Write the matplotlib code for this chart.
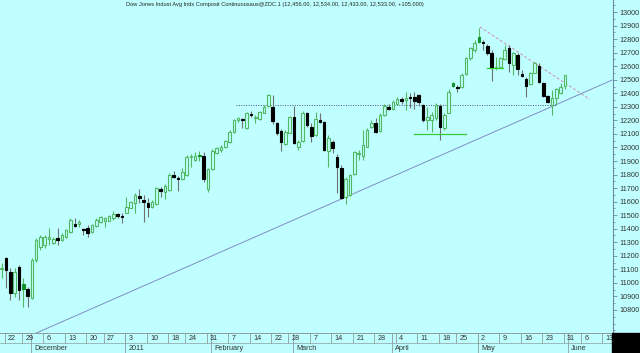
import numpy as np
import pandas as pd
import matplotlib
matplotlib.use('Agg')
import matplotlib.pyplot as plt
from matplotlib.patches import Rectangle

# trading days, exchange holidays left out
holidays = ['2010-11-25', '2010-12-24', '2011-01-17', '2011-02-21',
            '2011-04-22', '2011-05-30']
dates = pd.bdate_range('2010-11-19', '2011-06-17', freq='C', holidays=holidays)

opens = [11100, 11181, 11083, 10923, 11115, 10989, 10952, 10886, 11169, 11263,
         11280, 11321, 11297, 11334, 11317, 11336, 11378, 11435, 11435, 11400,
         11403, 11373, 11420, 11452, 11457, 11459, 11477, 11506, 11494, 11518,
         11555, 11592, 11642, 11612, 11587, 11558, 11583, 11691, 11674, 11686,
         11797, 11772, 11765, 11797, 11932, 11907, 11945, 11937, 11691, 11838,
         11961, 11981, 12006, 12043, 12112, 12203, 12210, 12141, 12244, 12215,
         12208, 12257, 12306, 12301, 12178, 12124, 12025, 12109, 12227, 12006,
         12050, 12252, 12153, 12092, 12203, 12190, 11976, 12038, 11932, 11846,
         11637, 11649, 11804, 11952, 11940, 12006, 12153, 12183, 12121, 12239,
         12301, 12281, 12321, 12358, 12350, 12370, 12375, 12387, 12313, 12202,
         12203, 12215, 12306, 12141, 12257, 12473, 12449, 12444, 12542, 12658,
         12719, 12813, 12774, 12749, 12700, 12584, 12596, 12650, 12732, 12609,
         12683, 12542, 12503, 12468, 12552, 12601, 12478, 12380, 12313, 12363,
         12404, 12456]
highs = [11147, 11194, 11107, 11107, 11132, 11034, 10972, 11181, 11329, 11354,
         11355, 11403, 11336, 11403, 11366, 11400, 11477, 11477, 11464, 11405,
         11427, 11434, 11477, 11494, 11489, 11501, 11531, 11514, 11514, 11632,
         11607, 11661, 11691, 11649, 11624, 11612, 11710, 11706, 11730, 11809,
         11829, 11789, 11846, 11944, 11952, 11969, 11976, 11969, 11846, 11986,
         12006, 12018, 12055, 12129, 12208, 12227, 12215, 12264, 12272, 12240,
         12272, 12313, 12395, 12387, 12190, 12134, 12129, 12232, 12306, 12055,
         12272, 12264, 12178, 12264, 12257, 12198, 12092, 12055, 11952, 11870,
         11780, 11804, 11976, 11981, 12126, 12141, 12203, 12215, 12252, 12321,
         12321, 12350, 12375, 12375, 12412, 12404, 12412, 12395, 12321, 12301,
         12264, 12325, 12321, 12252, 12429, 12486, 12461, 12547, 12670, 12744,
         12793, 12880, 12793, 12764, 12720, 12665, 12670, 12756, 12756, 12707,
         12695, 12572, 12523, 12560, 12633, 12621, 12486, 12387, 12424, 12436,
         12478, 12534]
lows = [11036, 10960, 10874, 10898, 10874, 10824, 10824, 10879, 11157, 11243,
        11260, 11280, 11287, 11280, 11312, 11331, 11371, 11410, 11415, 11354,
        11336, 11366, 11415, 11445, 11410, 11455, 11464, 11477, 11440, 11514,
        11550, 11514, 11592, 11452, 11489, 11550, 11575, 11637, 11617, 11679,
        11772, 11681, 11760, 11789, 11853, 11902, 11902, 11747, 11674, 11830,
        11952, 11969, 11994, 12036, 12104, 12190, 12141, 12134, 12222, 12178,
        12203, 12252, 12301, 12173, 12092, 11976, 12018, 12104, 12025, 11981,
        12043, 12153, 12043, 12085, 12178, 11976, 11858, 11957, 11661, 11617,
        11583, 11642, 11797, 11907, 11910, 12001, 12141, 12109, 12116, 12232,
        12276, 12276, 12313, 12321, 12276, 12288, 12281, 12306, 12190, 12129,
        12117, 12203, 12055, 12129, 12252, 12449, 12412, 12436, 12535, 12646,
        12707, 12769, 12720, 12683, 12493, 12572, 12584, 12646, 12560, 12535,
        12535, 12523, 12375, 12461, 12547, 12478, 12375, 12331, 12240, 12313,
        12395, 12433]
closes = [11110, 11095, 10923, 11083, 10948, 10955, 10903, 11169, 11317, 11336,
          11340, 11338, 11321, 11317, 11354, 11390, 11464, 11420, 11452, 11393,
          11366, 11427, 11464, 11489, 11477, 11494, 11509, 11494, 11484, 11563,
          11600, 11649, 11629, 11600, 11563, 11600, 11698, 11679, 11715, 11797,
          11784, 11765, 11821, 11932, 11937, 11935, 11940, 11765, 11838, 11976,
          11994, 12006, 12048, 12117, 12203, 12215, 12203, 12252, 12237, 12225,
          12264, 12301, 12387, 12198, 12104, 12043, 12117, 12222, 12030, 12043,
          12257, 12166, 12085, 12208, 12185, 11981, 12067, 11994, 11853, 11624,
          11765, 11797, 11969, 11961, 12018, 12129, 12178, 12116, 12239, 12306,
          12281, 12338, 12355, 12343, 12367, 12365, 12345, 12338, 12203, 12222,
          12239, 12313, 12153, 12239, 12412, 12457, 12441, 12535, 12658, 12732,
          12774, 12781, 12769, 12695, 12584, 12596, 12658, 12719, 12621, 12700,
          12577, 12528, 12454, 12552, 12621, 12486, 12380, 12338, 12363, 12429,
          12449, 12533]

title = ('Dow Jones Indust Avg Indx Composit Continuousaus@ZDC.1 '
         '(12,456.00, 12,534.00, 12,433.00, 12,533.00, +105.000)')

bg = '#c0ffff'
up_col = '#52b862'
plt.rcParams['font.family'] = ['Liberation Sans', 'DejaVu Sans']

fig = plt.figure(figsize=(6.4, 3.53), dpi=100, facecolor=bg)
ax = fig.add_axes([0, 20 / 353, 613 / 640, 333 / 353])
ax.set_facecolor(bg)

o = np.array(opens, float)
c = np.array(closes, float)
h = np.array(highs, float)
l = np.array(lows, float)
x = np.arange(len(c))
prev = np.r_[o[0], c[:-1]]
up = c >= o
gfill = (~up) & (c > prev)

face = np.where(up, bg, np.where(gfill, '#12922a', 'black'))
edge = np.where(up, up_col, np.where(gfill, '#12922a', 'black'))
wick = np.where(up | gfill, up_col, '#707070')

ax.vlines(x, l, h, colors=wick, lw=0.8, zorder=2)
ax.bar(x, np.maximum(np.abs(c - o), 7), bottom=np.minimum(o, c), width=0.6,
       color=face, edgecolor=edge, lw=0.8, zorder=3)

# drawn lines
ax.plot([7, 142], [10615, 12498], color='#7f8cc4', lw=0.7, zorder=1)
ax.plot([54.6, 129], [12315, 12315], color='#4a5585', lw=0.7, ls=(0, (1, 1.5)), zorder=1)
ax.plot([111.2, 136.8], [12891, 12355], color='#d08cb0', lw=0.7, ls=(0, (3, 2)), zorder=1)
ax.plot([95.9, 108], [12097, 12097], color='#33cc33', lw=0.9, zorder=4)
ax.plot([112.8, 116.7], [12584, 12584], color='#33cc33', lw=0.9, zorder=4)

ax.set_xlim(-0.4, 142.2)
ax.set_ylim(10630, 13089)
ax.set_xticks([])
ax.yaxis.tick_right()
yt = np.arange(10800, 13001, 100)
ax.set_yticks(yt)
ax.set_yticklabels([str(v) for v in yt])
ax.set_yticks(np.arange(10650, 13051, 50), minor=True)
ax.tick_params(axis='y', which='major', length=3, width=0.6, color='#6c8aa0',
               labelcolor='#333333', labelsize=5.2, pad=1.5)
ax.tick_params(axis='y', which='minor', length=1.5, width=0.6, color='#6c8aa0')
for s in ['left', 'top', 'bottom']:
    ax.spines[s].set_visible(False)
ax.spines['right'].set_color('#6c8aa0')
ax.spines['right'].set_linewidth(0.8)

ax.text(0.449, 0.985, title, transform=ax.transAxes, ha='center', va='center',
        fontsize=4.1, color='#222222')

# date strip
dax = fig.add_axes([0, 0, 613 / 640, 20 / 353])
dax.set_xlim(ax.get_xlim())
dax.set_ylim(0, 2)
dax.axis('off')
grid_col = '#8c9c9c'
dax.axhline(2, color=grid_col, lw=0.7, clip_on=False)
dax.axhline(1, color=grid_col, lw=0.5, clip_on=False)

pos = pd.Series(np.arange(len(dates)), index=dates)
weeks = pos[pos.index >= '2010-11-22']
wk_first = weeks.groupby(weeks.index.to_period('W')).head(1)
for d, p in wk_first.items():
    if p > 142:
        continue
    dax.vlines(p - 0.3, 1, 2, color=grid_col, lw=0.6)
    dax.text(p + 0.5, 1.5, str(d.day), fontsize=5.2, va='center', color='#333333')

months = pos[pos.index >= '2010-12-01']
mo_first = months.groupby(months.index.to_period('M')).head(1)
for d, p in mo_first.items():
    if p > 142:
        continue
    name = '2011' if d.month == 1 else d.strftime('%B')
    dax.vlines(p - 0.3, 0, 2, color=grid_col, lw=0.6)
    dax.text(p + 0.5, 0.5, name, fontsize=5.2, va='center', color='#333333')

fig.add_artist(Rectangle((612 / 640, 0), 28 / 640, 20 / 353,
                         transform=fig.transFigure, color='black'))

fig.savefig('out.png', dpi=100, facecolor=bg)
